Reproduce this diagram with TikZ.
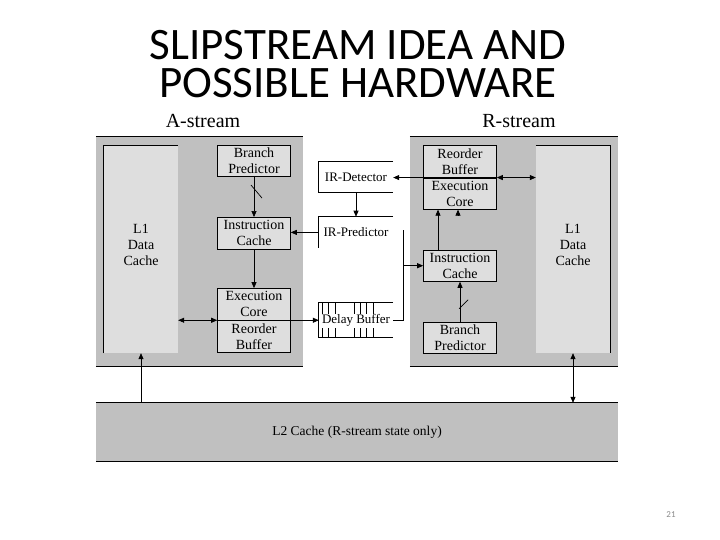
\documentclass[tikz,border=0pt]{standalone}
\usepackage{fontspec}
\setmainfont{Liberation Serif}
\newfontfamily\slidefont{Carlito}
\usetikzlibrary{arrows.meta, positioning}
\definecolor{streamgray}{RGB}{192,192,192}
\definecolor{cachegray}{RGB}{222,222,222}
\definecolor{pagegray}{RGB}{137,137,137}
\tikzset{
  streambox/.style={
    rectangle, fill=streamgray, inner sep=0pt
  },
  cachebox/.style={
    rectangle, fill=cachegray, minimum width=74pt, minimum height=207pt,
    inner sep=0pt, align=center, text depth=10pt,
    font=\fontsize{14}{16}\selectfont
  },
  unitbox/.style={
    rectangle, draw, line width=0.6pt, fill=cachegray, minimum width=73pt,
    minimum height=31.5pt, inner sep=0pt, align=center,
    font=\fontsize{14}{16}\selectfont
  },
  midbox/.style={
    rectangle, minimum width=74pt, minimum height=31pt, inner sep=0pt,
    font=\fontsize{13}{15}\selectfont
  },
  streamlabel/.style={font=\fontsize{20}{22}\selectfont},
  slidetitle/.style={font=\slidefont\fontsize{45}{38}\selectfont,
    align=center, inner sep=0pt},
  outline/.style={line width=0.7pt},
  arrow/.style={-{Triangle[length=6pt,width=5pt]}, line width=0.7pt},
  dblarrow/.style={{Triangle[length=6pt,width=5pt]}-{Triangle[length=6pt,width=5pt]},
    line width=0.7pt}
}

\begin{document}
\begin{tikzpicture}[x=1pt, y=-1pt]
  \useasboundingbox (0,0) rectangle (720,540);

  % title
  \node[slidetitle] (title) at (358,64) {SLIPSTREAM IDEA AND\\POSSIBLE HARDWARE};

  % stream backgrounds and L2
  \node[streambox, minimum width=207pt, minimum height=229pt] (streamA) at (199.5,251.5) {};
  \node[streambox, minimum width=208pt, minimum height=229pt] (streamR) at (514,251.5) {};
  \node[streambox, minimum width=522pt, minimum height=58pt,
        font=\fontsize{13.5}{16}\selectfont] (L2) at (357,432)
    {L2 Cache (R-stream state only)};
  \foreach \s in {streamA, streamR, L2} {
    \draw[outline] (\s.north west) -- (\s.north east);
    \draw[outline] (\s.south west) -- (\s.south east);
  }

  \node[streamlabel, anchor=base] (labA) at (203,128) {A-stream};
  \node[streamlabel, anchor=base] (labR) at (519,128) {R-stream};

  % L1 data caches
  \node[cachebox] (L1A) at (141,249.5) {L1\\Data\\Cache};
  \draw[outline] (L1A.south west) -- (L1A.north west) -- (L1A.north east);
  \node[cachebox] (L1R) at (573,249.5) {L1\\Data\\Cache};
  \draw[outline] (L1R.north west) -- (L1R.north east) -- (L1R.south east);

  % A-stream units
  \node[unitbox] (bpA) at (254,161) {Branch\\Predictor};
  \node[unitbox, below=40pt of bpA] (icA) {Instruction\\Cache};
  \node[unitbox, below=39pt of icA] (exA) {Execution\\Core};
  \node[unitbox, below=0pt of exA] (robA) {Reorder\\Buffer};

  % middle units
  \node[midbox] (irD) at (356,177) {IR-Detector};
  \node[midbox, below=24pt of irD] (irP) {IR-Predictor};
  \node[midbox, minimum height=34pt] (db) at (356,320) {Delay Buffer};
  \draw[outline] (irD.north east) -- (irD.north west) -- (irD.south west) -- (irD.south east);
  \draw[outline] (irP.north east) -- (irP.north west) -- (irP.south west);
  \draw[outline] (db.north east) -- (db.north west) -- (db.south west) -- (db.south east);
  \foreach \dx in {4,10,17,36,42,48,55} {
    \draw[outline] (db.north west) ++(\dx,0) -- ++(0,11);
    \draw[outline] (db.south west) ++(\dx,0) -- ++(0,-9);
  }

  % R-stream units
  \node[unitbox] (robR) at (460,161.5) {Reorder\\Buffer};
  \node[unitbox, below=0pt of robR] (exR) {Execution\\Core};
  \node[unitbox, below=40pt of exR] (icR) {Instruction\\Cache};
  \node[unitbox, below=40pt of icR] (bpR) {Branch\\Predictor};

  % A-stream connectors
  \draw[arrow] (bpA) -- (icA);
  \draw[outline] ([xshift=-3pt,yshift=-8pt]bpA.south) -- ([xshift=8pt,yshift=-21pt]bpA.south);
  \draw[arrow] (icA) -- (exA);
  \draw[arrow] (irP.west) -- (irP.west -| icA.east);
  \draw[dblarrow] (L1A.east |- robA.north west) -- (robA.north west);
  \draw[arrow] (robA.north west) -- (robA.north west -| db.west);
  \draw[arrow] (L1A.south |- L2.north) -- (L1A.south);

  % middle and R-stream connectors
  \draw[arrow] (robR.south west) -- (robR.south west -| irD.east);
  \draw[arrow] (irD) -- (irP);
  \draw[dblarrow] (robR.south east) -- (robR.south east -| L1R.west);
  \draw[arrow] ([xshift=-22pt]icR.north) -- ([xshift=-22pt]exR.south);
  \draw[arrow] ([xshift=-2pt,yshift=-6pt]exR.south) -- ([xshift=-2pt]exR.south);
  \draw[arrow] (bpR) -- (icR);
  \draw[outline] ([xshift=-1pt,yshift=-27pt]icR.south) -- ([xshift=8pt,yshift=-18pt]icR.south);
  \coordinate (tap) at (403,230);
  \draw[outline] (db.east) -| (tap);
  \draw[arrow] (tap |- icR.west) -- (icR.west);
  \draw[dblarrow] (L1R.south) -- (L1R.south |- L2.north);

  \node[font=\slidefont\fontsize{9}{11}\selectfont, text=pagegray] (pagenum) at (671,515) {21};
\end{tikzpicture}
\end{document}
